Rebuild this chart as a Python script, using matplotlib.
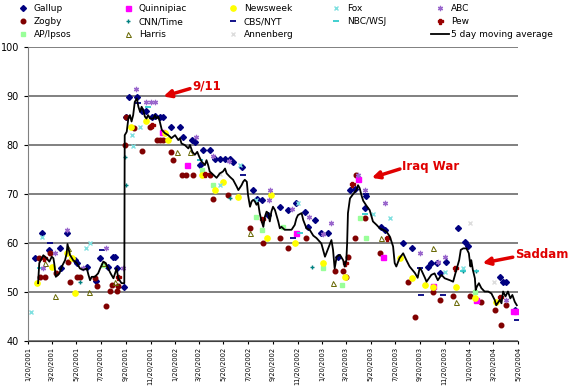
import matplotlib
matplotlib.use("Agg")
import matplotlib.pyplot as plt
import numpy as np
from datetime import datetime

start = np.datetime64("2001-01-20")
end = np.datetime64("2004-05-20")

# poll results: (days after 1/20/2001, approval %)
gallup = [(17, 57.0), (34, 62.0), (53, 58.6), (79, 58.9), (82, 54.8), (96, 62.0), (117, 56.5),
          (122, 55.9), (147, 55.1), (169, 52.2), (179, 56.9), (199, 55.2), (212, 57.1), (216, 57.1),
          (220, 54.8), (238, 51.1), (242, 85.8), (251, 89.7), (270, 89.7), (283, 87.0), (293, 87.0),
          (307, 85.8), (315, 86.0), (327, 85.8), (336, 85.8), (356, 83.7), (377, 83.7), (385, 81.7),
          (406, 81.0), (414, 80.7), (427, 75.9), (435, 78.9), (451, 79.0), (464, 77.1), (476, 77.1),
          (489, 77.1), (501, 77.1), (509, 76.6), (530, 75.5), (559, 70.8), (568, 68.9), (580, 68.8),
          (596, 65.7), (625, 67.3), (646, 66.7), (666, 68.1), (687, 66.4), (695, 63.3), (712, 64.7),
          (728, 62.0), (745, 62.0), (770, 57.2), (799, 70.8), (811, 71.0), (840, 69.6), (836, 67.1),
          (877, 63.3), (885, 62.7), (931, 59.9), (952, 58.9), (993, 55.2), (1001, 55.9), (1014, 55.9),
          (1022, 53.8), (1038, 56.2), (1067, 63.0), (1084, 60.3), (1092, 59.3), (1171, 53.1),
          (1179, 52.1), (1187, 52.1), (1208, 46.3)]
zogby = [(28, 57.0), (30, 53.1), (42, 53.1), (55, 57.9), (69, 53.9), (100, 56.2), (104, 52.1),
         (121, 53.1), (129, 53.1), (166, 52.8), (171, 51.2), (193, 47.1), (203, 50.3), (208, 51.4),
         (221, 50.3), (224, 51.2), (240, 80.0), (243, 85.8), (263, 83.5), (282, 78.8), (303, 83.7),
         (319, 81.0), (327, 81.0), (336, 81.0), (356, 78.5), (360, 77.0), (381, 73.9), (393, 73.9),
         (410, 73.9), (451, 73.9), (460, 68.9), (497, 69.8), (551, 63.0), (582, 59.9), (625, 61.0),
         (646, 58.9), (691, 61.0), (761, 54.2), (782, 54.2), (790, 53.1), (794, 57.2), (815, 73.9),
         (811, 61.0), (836, 65.1), (873, 58.0), (943, 52.1), (960, 45.0), (1005, 50.1), (1022, 48.4),
         (1055, 49.1), (1096, 49.1), (1125, 48.0), (1158, 46.3), (1175, 43.3), (1187, 47.3)]
ap_ipsos = [(186, 55.5), (431, 74.9), (460, 71.8), (567, 65.4), (580, 62.7), (633, 63.3),
            (732, 54.8), (778, 51.4), (823, 65.1), (840, 61.0), (1109, 50.0)]
quinnipiac = [(332, 82.7), (395, 75.9), (666, 62.0), (819, 73.0), (881, 57.1), (1005, 51.2),
              (1111, 48.4), (1204, 46.2), (1210, 46.2)]
cnn_time = [(129, 52.1), (240, 77.6), (243, 71.8), (501, 69.1), (704, 55.2), (1079, 54.2), (1113, 54.2)]
harris = [(42, 55.9), (67, 49.1), (100, 58.9), (152, 50.1), (185, 55.9), (216, 52.1), (369, 78.6),
          (402, 78.6), (551, 62.0), (757, 51.9), (877, 61.0), (1005, 58.9), (1061, 48.0)]
newsweek = [(23, 51.9), (59, 55.1), (96, 57.9), (108, 56.9), (117, 49.7), (255, 83.6), (294, 84.8),
            (340, 82.4), (347, 81.0), (431, 73.9), (464, 70.8), (484, 72.5), (522, 69.3), (604, 69.8),
            (592, 61.0), (662, 59.9), (732, 55.9), (786, 53.1), (922, 56.9), (952, 52.8), (985, 51.4),
            (1005, 51.1), (1063, 51.1), (1109, 48.7), (1162, 48.0)]
cbs_nyt = [(55, 59.9), (183, 58.6), (274, 88.5), (427, 77.0), (534, 73.9), (658, 61.0), (838, 70.0),
           (972, 55.0), (976, 49.4), (1030, 49.4), (1213, 44.3)]
annenberg = [(476, 74.0), (1096, 64.0), (1156, 52.0)]
fox = [(7, 46.0), (34, 61.3), (144, 58.9), (154, 59.9), (257, 82.0), (261, 79.7), (278, 83.7),
       (476, 71.8), (526, 76.0), (567, 68.8), (670, 68.1), (856, 66.0), (898, 65.1), (1034, 54.0),
       (1079, 55.0)]
nbc_wsj = [(30, 55.0), (298, 87.8), (427, 77.0), (675, 62.0), (836, 66.0), (1079, 54.2), (1113, 54.2)]
abc = [(38, 54.8), (67, 57.9), (96, 62.6), (137, 54.8), (193, 58.9), (236, 54.8), (268, 91.4),
       (294, 88.8), (305, 88.8), (315, 88.8), (418, 81.7), (460, 77.8), (499, 76.8), (600, 70.8),
       (598, 68.8), (654, 66.9), (698, 65.4), (732, 61.8), (753, 64.0), (819, 73.9), (836, 70.8),
       (885, 68.1), (972, 57.9), (1017, 56.2), (1034, 57.2), (1187, 48.4)]
pew = [(40, 57.0), (223, 53.0), (308, 84.0), (439, 74.0), (580, 65.0), (786, 56.0), (804, 72.0),
       (890, 61.0), (1059, 55.0), (1171, 49.0)]

moving_avg = [(25, 51.8), (28, 55.9), (38, 57.5), (46, 56.9), (53, 56.2), (59, 57.2), (63, 56.9),
              (65, 55.9), (69, 53.1), (78, 53.8), (84, 55.2), (92, 56.5), (96, 57.9), (98, 59.8),
              (104, 57.6), (112, 56.5), (121, 55.9), (129, 54.8), (137, 54.5), (146, 54.8), (150, 53.5),
              (154, 52.4), (158, 53.1), (166, 53.1), (174, 53.8), (179, 54.8), (187, 56.2), (193, 55.9),
              (199, 54.8), (205, 53.8), (212, 52.8), (220, 54.8), (224, 52.8), (232, 51.8), (239, 51.8),
              (240, 82.0), (245, 82.7), (249, 85.4), (253, 86.1), (257, 84.8), (261, 86.1), (265, 88.8),
              (270, 89.5), (274, 87.8), (278, 86.8), (282, 87.8), (286, 87.1), (290, 85.8), (294, 85.4),
              (298, 86.1), (303, 85.4), (311, 85.4), (315, 86.1), (319, 85.4), (323, 85.8), (327, 84.8),
              (332, 83.1), (340, 82.4), (348, 82.0), (356, 81.4), (365, 82.0), (373, 81.0), (377, 81.4),
              (381, 80.3), (389, 80.0), (398, 79.3), (402, 80.0), (408, 78.6), (414, 78.0), (420, 78.6),
              (425, 77.6), (431, 76.6), (439, 75.9), (443, 76.9), (447, 75.9), (451, 74.6), (460, 73.9),
              (468, 73.3), (476, 74.2), (484, 74.6), (489, 75.2), (493, 74.2), (501, 73.5), (509, 72.9),
              (518, 71.5), (522, 70.8), (530, 71.8), (534, 72.5), (538, 72.9), (543, 72.5), (546, 69.8),
              (551, 67.4), (555, 68.5), (559, 68.8), (563, 68.5), (567, 67.8), (571, 68.2), (575, 66.1),
              (579, 64.7), (584, 63.3), (588, 65.4), (592, 66.4), (596, 66.1), (600, 64.4), (604, 66.4),
              (608, 67.4), (613, 66.7), (621, 64.4), (625, 63.0), (629, 63.3), (633, 63.0), (637, 62.7),
              (646, 62.7), (654, 62.7), (662, 63.7), (666, 65.0), (670, 65.7), (679, 66.1), (683, 64.7),
              (691, 63.0), (699, 62.7), (708, 61.5), (716, 61.0), (728, 59.9), (737, 57.2), (745, 58.9),
              (753, 60.6), (757, 58.6), (761, 54.8), (766, 57.2), (774, 57.6), (782, 56.5), (786, 55.2),
              (790, 56.5), (792, 60.0), (794, 66.1), (799, 69.1), (807, 70.0), (815, 70.8), (819, 71.8),
              (823, 71.2), (828, 69.6), (832, 68.6), (840, 67.6), (848, 66.7), (856, 64.4), (865, 63.7),
              (873, 63.0), (881, 62.7), (890, 62.3), (898, 61.3), (906, 59.3), (910, 55.9), (914, 55.2),
              (922, 56.9), (931, 57.9), (939, 56.5), (947, 55.2), (960, 53.9), (967, 52.9), (972, 54.9),
              (976, 54.5), (985, 52.9), (989, 52.1), (1001, 53.5), (1009, 53.8), (1017, 52.4),
              (1026, 53.5), (1034, 52.8), (1047, 52.4), (1055, 52.1), (1063, 54.5), (1070, 56.5),
              (1074, 58.6), (1080, 58.9), (1088, 58.9), (1094, 57.9), (1098, 55.2), (1100, 56.5),
              (1104, 54.5), (1109, 52.8), (1111, 50.4), (1114, 51.1), (1119, 51.8), (1125, 50.8),
              (1133, 50.1), (1142, 50.1), (1150, 49.7), (1158, 48.4), (1162, 47.3), (1171, 48.4),
              (1175, 47.7), (1179, 50.1), (1185, 49.1), (1191, 50.1), (1197, 48.7), (1202, 49.4),
              (1208, 48.0), (1213, 47.3)]

tick_labels = ["1/20/2001", "3/20/2001", "5/20/2001", "7/20/2001", "9/20/2001", "11/20/2001",
               "1/20/2002", "3/20/2002", "5/20/2002", "7/20/2002", "9/20/2002", "11/20/2002",
               "1/20/2003", "3/20/2003", "5/20/2003", "7/20/2003", "9/20/2003", "11/20/2003",
               "1/20/2004", "3/20/2004", "5/20/2004"]

# (text, arrow tip, arrow tail) in (day, value)
events = [("9/11", (336, 89.9), (402, 91.5)),
          ("Iraq War", (853, 73.3), (923, 75.1)),
          ("Saddam", (1128, 55.9), (1203, 57.1))]


def split(pairs):
    d, v = zip(*pairs)
    return start + np.array(d, dtype="timedelta64[D]"), np.array(v)


series = [
    ("Gallup", gallup, dict(marker="D", color="#000080", ms=3.0)),
    ("Zogby", zogby, dict(marker="o", color="#800000", ms=3.3)),
    ("AP/Ipsos", ap_ipsos, dict(marker="s", color="#99FF99", ms=3.3)),
    ("Quinnipiac", quinnipiac, dict(marker="s", color="#FF00FF", ms=3.6)),
    ("CNN/Time", cnn_time, dict(marker="+", color="#008080", ms=3.3, mew=1)),
    ("Harris", harris, dict(marker="^", color="#666600", mfc="none", ms=3.6, mew=0.7)),
    ("Newsweek", newsweek, dict(marker="o", color="#FFFF00", ms=3.8)),
    ("CBS/NYT", cbs_nyt, dict(marker="_", color="#000080", ms=4, mew=1.3)),
    ("Annenberg", annenberg, dict(marker="x", color="#DDDDDD", ms=3.3, mew=1)),
    ("Fox", fox, dict(marker="x", color="#7FE0E0", ms=3.3, mew=1)),
    ("NBC/WSJ", nbc_wsj, dict(marker="_", color="#33CCCC", ms=4, mew=1.3)),
    ("ABC", abc, dict(marker=(6, 2, 0), color="#9966CC", ms=3.8, mew=0.9)),
    ("Pew", pew, dict(marker="P", color="#990000", ms=3.6)),
]

fig = plt.figure(figsize=(5.75, 3.89), dpi=100)
ax = fig.add_axes([28 / 575, 1 - 341 / 389, 490 / 575, 294 / 389])

handles = {}
for name, pairs, style in series:
    x, y = split(pairs)
    h, = ax.plot(x, y, ls="none", label=name, **style)
    handles[name] = h

mx, my = split(moving_avg)
h, = ax.plot(mx, my, color="black", lw=1.3, label="5 day moving average")
handles["5 day moving average"] = h

ax.set_xlim(start, end)
ax.set_ylim(40, 100)
ax.set_yticks(range(40, 101, 10))
tick_dates = [np.datetime64(datetime.strptime(t, "%m/%d/%Y").date()) for t in tick_labels]
ax.set_xticks(tick_dates)
ax.set_xticklabels(tick_labels, rotation=90, fontsize=4.8)
ax.tick_params(axis="y", labelsize=7, length=3)
ax.tick_params(axis="x", length=2.5, pad=1.5)
ax.yaxis.grid(True, color="#808080", lw=1.4)
ax.set_axisbelow(True)
for s in ["top", "right"]:
    ax.spines[s].set_visible(False)
ax.spines["left"].set_color("#808080")
ax.spines["bottom"].set_color("#404040")

for text, tip, tail in events:
    tip_d = start + np.timedelta64(tip[0], "D")
    tail_d = start + np.timedelta64(tail[0], "D")
    ax.annotate("", xy=(tip_d, tip[1]), xytext=(tail_d, tail[1]),
                arrowprops=dict(arrowstyle="-|>", color="#E00000", lw=2.5, mutation_scale=11,
                                shrinkA=0, shrinkB=0), annotation_clip=False)
    ax.text(tail_d + np.timedelta64(5, "D"), tail[1] + 0.6, text, color="#E00000", fontsize=8.5,
            fontweight="bold", va="center", ha="left", clip_on=False)

columns = [["Gallup", "Zogby", "AP/Ipsos"],
           ["Quinnipiac", "CNN/Time", "Harris"],
           ["Newsweek", "CBS/NYT", "Annenberg"],
           ["Fox", "NBC/WSJ"],
           ["ABC", "Pew", "5 day moving average"]]
col_x = [13.5, 118.5, 223.5, 326.5, 431]
for names, x0 in zip(columns, col_x):
    fig.legend([handles[n] for n in names], names, loc="upper left",
               bbox_to_anchor=(x0 / 575, 1 - 4 / 389), frameon=False, fontsize=6.5,
               handlelength=2.0, handletextpad=0.25, labelspacing=0.45, borderpad=0,
               borderaxespad=0)

fig.savefig("out.png", dpi=100)
